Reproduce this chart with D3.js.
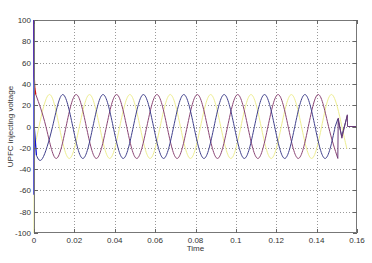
<!DOCTYPE html>
<html><head><meta charset="utf-8">
<script src="https://cdn.jsdelivr.net/npm/d3@7"></script>
<style>body{margin:0;background:#fff;}svg{display:block;}</style>
</head><body><svg id="c" width="372" height="263"></svg>
<script>
const xTicks = [0,0.02,0.04,0.06,0.08,0.1,0.12,0.14,0.16];
const yTicks = [-100,-80,-60,-40,-20,0,20,40,60,80,100];

const redStart = [[0,100],[0.0001,47],[0.0004,36],[0.0009,30]];
const redWave = [[0.0009,30],[0.0059,0],[0.0109,-30],[0.0159,0],
 [0.0209,30],[0.0259,0],[0.0309,-30],[0.0359,0],
 [0.0409,30],[0.0459,0],[0.0509,-30],[0.0559,0],
 [0.0609,30],[0.0659,0],[0.0709,-30],[0.0759,0],
 [0.0809,30],[0.0859,0],[0.0909,-30],[0.0959,0],
 [0.1009,30],[0.1059,0],[0.1109,-30],[0.1159,0],
 [0.1209,30],[0.1259,0],[0.1309,-30],[0.1359,0],
 [0.1409,30],[0.1459,0],[0.1505,-30]];
const redEnd = [[0.1505,-30],[0.1507,8],[0.1525,-11],[0.1552,11],[0.1553,0],[0.1600,0]];

const blueStart = [[0,100],[0,-64],[0.0001,0],[0.0012,-27]];
const blueWave = [[0.0012,-27],[0.0042,-30],[0.0092,0],[0.0142,30],[0.0192,0],
 [0.0242,-30],[0.0292,0],[0.0342,30],[0.0392,0],
 [0.0442,-30],[0.0492,0],[0.0542,30],[0.0592,0],
 [0.0642,-30],[0.0692,0],[0.0742,30],[0.0792,0],
 [0.0842,-30],[0.0892,0],[0.0942,30],[0.0992,0],
 [0.1042,-30],[0.1092,0],[0.1142,30],[0.1192,0],
 [0.1242,-30],[0.1292,0],[0.1342,30],[0.1392,0],
 [0.1442,-30],[0.1492,0]];
const blueEnd = [[0.1492,0],[0.1505,7],[0.1524,-9],[0.1552,10]];

const yellowStart = [[0,-100],[0.0001,-45],[0.0002,-20]];
const yellowWave = [[0.0002,-20],[0.0025,0],[0.0075,30],[0.0125,0],[0.0175,-30],
 [0.0225,0],[0.0275,30],[0.0325,0],[0.0375,-30],
 [0.0425,0],[0.0475,30],[0.0525,0],[0.0575,-30],
 [0.0625,0],[0.0675,30],[0.0725,0],[0.0775,-30],
 [0.0825,0],[0.0875,30],[0.0925,0],[0.0975,-30],
 [0.1025,0],[0.1075,30],[0.1125,0],[0.1175,-30],
 [0.1225,0],[0.1275,30],[0.1325,0],[0.1375,-30],
 [0.1425,0],[0.1475,30],[0.1525,0],[0.1550,-21]];

const svg = d3.select("#c");
const L=34, T=20, R=357, B=233;
const x = d3.scaleLinear().domain([0,0.16]).range([L,R]);
const y = d3.scaleLinear().domain([-100,100]).range([B,T]);
const font = "Liberation Sans, Arial, sans-serif";

// grid
const g = svg.append("g");
g.selectAll(".gx").data(xTicks.slice(1,-1)).enter().append("line")
 .attr("x1",d=>Math.round(x(d))+0.5).attr("x2",d=>Math.round(x(d))+0.5)
 .attr("y1",T).attr("y2",B).attr("stroke","#9a9a9a").attr("stroke-width",1).attr("stroke-dasharray","1,2");
g.selectAll(".gy").data(yTicks.slice(1,-1)).enter().append("line")
 .attr("y1",d=>Math.round(y(d))+0.5).attr("y2",d=>Math.round(y(d))+0.5)
 .attr("x1",L).attr("x2",R).attr("stroke","#9a9a9a").attr("stroke-width",1).attr("stroke-dasharray","1,2");

const lineLin = d3.line().x(d=>x(d[0])).y(d=>y(d[1]));
const lineNat = d3.line().x(d=>x(d[0])).y(d=>y(d[1])).curve(d3.curveNatural);

function draw(data, gen, color, w){
  svg.append("path").datum(data).attr("d",gen).attr("fill","none")
   .attr("stroke",color).attr("stroke-width",w);
}
draw(yellowWave, lineNat, "#eeee90", 1);
draw(yellowStart, lineLin, "#e6e680", 1);
draw(redWave, lineNat, "#8a4474", 1);
draw(blueWave, lineNat, "#40408c", 1);
draw(redStart, lineLin, "#d01010", 1.3);
draw(blueStart, lineLin, "#1010d0", 1.3);
draw(blueEnd, lineLin, "#40408c", 1);
draw(redEnd, lineLin, "#6a3a78", 1);

// axes box
const ax = svg.append("g").attr("font-family",font).attr("font-size","8px").attr("fill","#333");
ax.append("rect").attr("x",L+0.5).attr("y",T+0.5).attr("width",R-L-1).attr("height",B-T-1)
 .attr("fill","none").attr("stroke","#777").attr("stroke-width",1);
xTicks.forEach(d=>{
  const px = Math.round(x(d))+0.5;
  ax.append("line").attr("x1",px).attr("x2",px).attr("y1",B).attr("y2",B-4).attr("stroke","#666");
  ax.append("line").attr("x1",px).attr("x2",px).attr("y1",T).attr("y2",T+4).attr("stroke","#666");
  ax.append("text").attr("x",x(d)).attr("y",B+10).attr("text-anchor","middle").text(d3.format("~g")(d));
});
yTicks.forEach(d=>{
  const py = Math.round(y(d))+0.5;
  ax.append("line").attr("y1",py).attr("y2",py).attr("x1",L).attr("x2",L+4).attr("stroke","#666");
  ax.append("line").attr("y1",py).attr("y2",py).attr("x1",R).attr("x2",R-4).attr("stroke","#666");
  ax.append("text").attr("x",L-3).attr("y",y(d)+3).attr("text-anchor","end").text(d);
});
ax.append("text").attr("x",(L+R)/2).attr("y",251).attr("text-anchor","middle").text("Time");
ax.append("text").attr("transform",`translate(13,${(T+B)/2}) rotate(-90)`).attr("text-anchor","middle").text("UPFC injecting voltage");
</script></body></html>
